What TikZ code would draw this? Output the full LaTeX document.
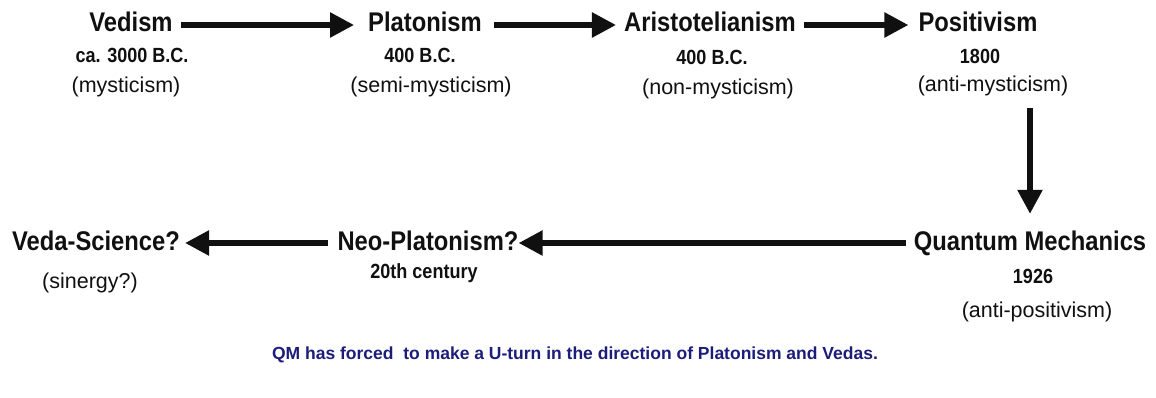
\documentclass[tikz,border=0pt]{standalone}
\usepackage{fontspec}
\setmainfont{Liberation Sans}
\newfontfamily\tallfont[FakeStretch=0.88]{Liberation Sans}
\usepackage{xcolor}
\usepackage{tikz}
\usetikzlibrary{arrows.meta,positioning}
\definecolor{qmnavy}{HTML}{1C1C7A}
\definecolor{qmdark}{HTML}{101010}
\tikzset{
  eranode/.style={font=\tallfont\bfseries\fontsize{27}{30}\selectfont,text=qmdark,
                  text height=14pt,text depth=0pt,inner xsep=4pt,inner ysep=2pt},
  datenode/.style={font=\tallfont\bfseries\fontsize{20.5}{24}\selectfont,text=qmdark,inner sep=1pt},
  tagnode/.style={font=\fontsize{21.5}{25}\selectfont,text=qmdark,inner sep=1pt},
  notenode/.style={font=\bfseries\fontsize{17.5}{20}\selectfont,text=qmnavy,inner sep=1pt},
  bigflow/.style={-{Triangle[length=24pt,width=24pt]},line width=5.5pt,draw=qmdark}
}
\begin{document}
\begin{tikzpicture}[x=1pt,y=1pt]
    \useasboundingbox (0,0) rectangle (1156,-398);

    % upper row
    \node[eranode,anchor=base] (vedism) at (131,-32) {Vedism};
    \node[datenode,anchor=base] (vedDate) at (132,-63) {ca. 3000 B.C.};
    \node[tagnode,anchor=base] (vedTag) at (126,-93) {(mysticism)};

    \node[eranode,anchor=base] (platonism) at (425,-32) {Platonism};
    \node[datenode,anchor=base] (platDate) at (420,-63) {400 B.C.};
    \node[tagnode,anchor=base] (platTag) at (431,-93) {(semi-mysticism)};

    \node[eranode,anchor=base] (aristo) at (710,-32) {Aristotelianism};
    \node[datenode,anchor=base] (aristoDate) at (712,-65) {400 B.C.};
    \node[tagnode,anchor=base] (aristoTag) at (718,-95) {(non-mysticism)};

    \node[eranode,anchor=base] (positivism) at (978,-32) {Positivism};
    \node[datenode,anchor=base] (posDate) at (980,-64) {1800};
    \node[tagnode,anchor=base] (posTag) at (993,-92) {(anti-mysticism)};

    % lower row
    \node[eranode,anchor=base] (qm) at (1030,-250) {Quantum Mechanics};
    \node[datenode,anchor=base] (qmDate) at (1033,-283) {1926};
    \node[tagnode,anchor=base] (qmTag) at (1037,-317) {(anti-positivism)};

    \node[eranode,anchor=base] (neoplat) at (428,-250) {Neo-Platonism?};
    \node[datenode,anchor=base] (neoDate) at (424,-278) {20th century};

    \node[eranode,anchor=base] (vedasci) at (96,-250) {Veda-Science?};
    \node[tagnode,anchor=base] (vsTag) at (90,-288) {(sinergy?)};

    \node[notenode,anchor=base] (note) at (575,-359)
      {QM has forced\ \ to make a U-turn in the direction of Platonism and Vedas.};

    \draw[bigflow,shorten <=4pt,shorten >=10pt] (vedism) -- (platonism);
    \draw[bigflow,shorten <=8pt,shorten >=4pt] (platonism) -- (aristo);
    \draw[bigflow,shorten <=4pt,shorten >=6pt] (aristo) -- (positivism);
    \draw[bigflow,shorten <=10pt,shorten >=20pt] (posTag.south -| qm.north) -- (qm.north);
    \draw[bigflow,shorten <=4pt,shorten >=-4pt] (qm) -- (neoplat);
    \draw[bigflow,shorten <=5pt,shorten >=1pt] (neoplat) -- (vedasci);
\end{tikzpicture}
\end{document}
